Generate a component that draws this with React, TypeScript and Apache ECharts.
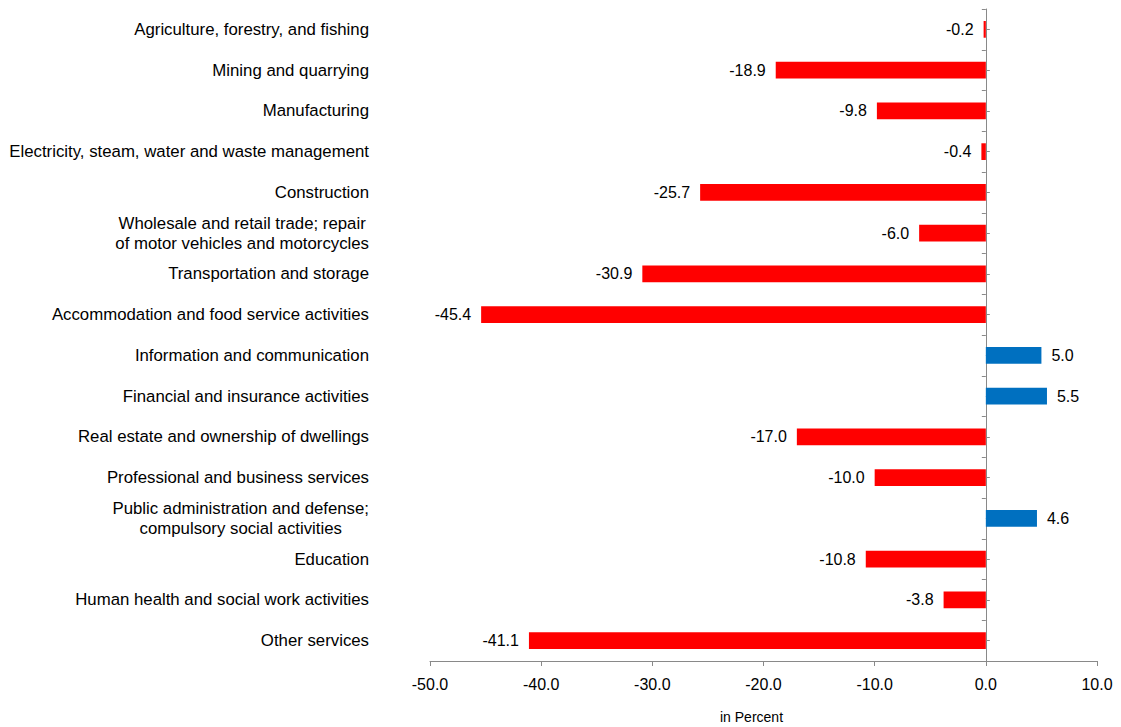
import React, { useEffect, useRef } from "react";
import * as echarts from "echarts";

const categories = [
  "Agriculture, forestry, and fishing",
  "Mining and quarrying",
  "Manufacturing",
  "Electricity, steam, water and waste management",
  "Construction",
  "Wholesale and retail trade; repair\nof motor vehicles and motorcycles",
  "Transportation and storage",
  "Accommodation and food service activities",
  "Information and communication",
  "Financial and insurance activities",
  "Real estate and ownership of dwellings",
  "Professional and business services",
  "Public administration and defense;\ncompulsory social activities",
  "Education",
  "Human health and social work activities",
  "Other services",
];

const values = [-0.2, -18.9, -9.8, -0.4, -25.7, -6.0, -30.9, -45.4, 5.0, 5.5, -17.0, -10.0, 4.6, -10.8, -3.8, -41.1];

const xMin = -50;
const xMax = 10;
const xInterval = 10;
const axisName = "in Percent";

const RED = "#FF0000";
const BLUE = "#0070C0";
const AXIS_GRAY = "#898989";
const FONT = "'Liberation Sans', Arial, sans-serif";

const W = 1121;
const H = 727;
const GRID_LEFT = 430;
const GRID_RIGHT = 24;
const PLOT_W = W - GRID_LEFT - GRID_RIGHT;
const CAT_FONT = 16.8;

export default function App() {
  const ref = useRef<HTMLDivElement>(null);
  useEffect(() => {
    if (!ref.current) return;
    const chart = echarts.init(ref.current, undefined, { renderer: "svg" });
    chart.setOption({
      animation: false,
      textStyle: { fontFamily: FONT },
      grid: {
        left: GRID_LEFT,
        right: GRID_RIGHT,
        top: 9,
        bottom: 66,
        containLabel: false,
        outerBoundsMode: "none",
      },
      xAxis: {
        type: "value",
        min: xMin,
        max: xMax,
        interval: xInterval,
        splitLine: { show: false },
        axisLine: { show: true, onZero: false, lineStyle: { color: AXIS_GRAY, width: 1 } },
        axisTick: { show: true, length: 5, lineStyle: { color: AXIS_GRAY } },
        axisLabel: {
          color: "#000",
          fontSize: 16,
          fontFamily: FONT,
          margin: 15,
          formatter: (v: number) => v.toFixed(1),
        },
        name: axisName,
        nameLocation: "middle",
        nameGap: 49,
        nameTextStyle: { color: "#000", fontSize: 14, fontFamily: FONT, padding: [0, 24, 0, 0] },
      },
      yAxis: [
        {
          type: "category",
          data: categories,
          inverse: true,
          position: "left",
          axisLine: { show: false, onZero: false },
          axisTick: { show: false },
          axisLabel: {
            margin: 61,
            color: "#000",
            fontSize: CAT_FONT,
            fontFamily: FONT,
            lineHeight: 20,
            formatter: (v: string) =>
              v
                .split("\n")
                .map((l) => "{c|" + l + "}")
                .join("\n"),
            rich: {
              c: { align: "center", fontSize: CAT_FONT, fontFamily: FONT, color: "#000", lineHeight: 20 },
            },
          },
        },
        {
          type: "category",
          data: categories,
          inverse: true,
          position: "left",
          axisLine: { show: true, onZero: true, lineStyle: { color: AXIS_GRAY, width: 1 } },
          axisTick: { show: true, length: 4, alignWithLabel: false, lineStyle: { color: AXIS_GRAY } },
          axisLabel: { show: false },
        },
        {
          type: "category",
          data: categories,
          inverse: true,
          position: "right",
          offset: -(xMax / (xMax - xMin)) * PLOT_W,
          axisLine: { show: false, onZero: false },
          axisTick: { show: true, length: 4, alignWithLabel: true, lineStyle: { color: AXIS_GRAY } },
          axisLabel: { show: false },
        },
      ],
      series: [
        {
          type: "bar",
          yAxisIndex: 0,
          barWidth: "41%",
          data: values.map((v) => ({
            value: v,
            itemStyle: { color: v < 0 ? RED : BLUE },
            label: { position: v < 0 ? "left" : "right" },
          })),
          label: {
            show: true,
            distance: 10,
            color: "#000",
            fontSize: 16,
            fontFamily: FONT,
            formatter: (p: any) => Number(p.value).toFixed(1),
          },
        },
      ],
    });
    return () => chart.dispose();
  }, []);
  return (
    <div
      ref={ref}
      style={{ position: "fixed", left: 0, top: 0, width: W, height: H, background: "#fff" }}
    />
  );
}
